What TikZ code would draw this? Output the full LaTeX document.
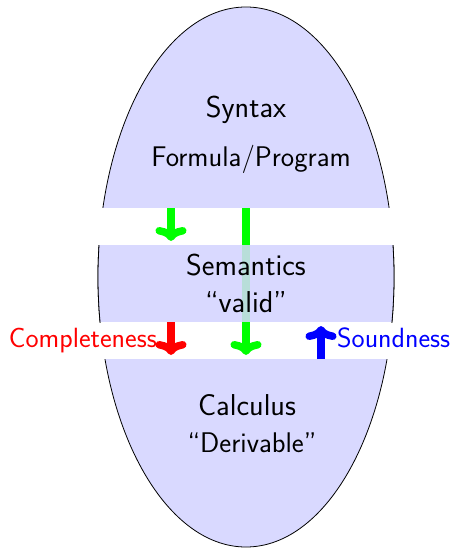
\documentclass[tikz,border=0pt]{standalone}
\usetikzlibrary{arrows.meta}
\begin{document}
\begin{tikzpicture}[x=1pt,y=-1pt,
  lbl/.style={font=\sffamily\fontsize{30.2}{37}\selectfont, anchor=base, inner sep=0pt},
  lblsmall/.style={font=\sffamily\fontsize{28.4}{37}\selectfont, anchor=base, inner sep=0pt},
  side/.style={font=\sffamily\fontsize{27.8}{30}\selectfont, inner sep=0pt},
  arr/.style={line width=7.5pt, -{To[length=14pt,width=31pt,round]}},
  bandfill/.style={fill=white, draw=none}]
\useasboundingbox (0,0) rectangle (454,548);
% ellipse
\path[fill=blue!15, draw=black, line width=0.8pt] (246,277) ellipse [x radius=148, y radius=270];
% white bands
\path[bandfill] (90,208) rectangle (402,245);
\path[bandfill] (90,322) rectangle (402,359);
% coordinates
\coordinate (gls) at (246,208);
\coordinate (gle) at (246,355);
\coordinate (g1s) at (171,208);
\coordinate (g1e) at (171,241);
\coordinate (rs) at (171,322);
\coordinate (re) at (171,355);
\coordinate (bs) at (321,359);
\coordinate (be) at (321,326);
% long green arrow (behind semantics band)
\draw[arr, green] (gls) -- (gle);
% semantics band
\begin{scope}
  \clip (246,277) ellipse [x radius=148, y radius=270];
  \fill[blue!15, fill opacity=0.85] (90,245) rectangle (402,322);
\end{scope}
\begin{scope}
  \clip (90,245) rectangle (402,322);
  \draw[line width=0.8pt] (246,277) ellipse [x radius=148, y radius=270];
\end{scope}
% short arrows
\draw[arr, green] (g1s) -- (g1e);
\draw[arr, red] (rs) -- (re);
\draw[arr, blue] (bs) -- (be);
% texts
\node[lbl] (syn) at (246,118) {Syntax};
\node[lblsmall] (form) at (251,167) {Formula/Program};
\node[lbl] (sem) at (246,275) {Semantics};
\node[lbl] (val) at (246,312) {``valid''};
\node[lbl] (cal) at (247,415) {Calculus};
\node[lblsmall] (der) at (252,452) {``Derivable''};
\node[side, red, anchor=base east] (comp) at (157,347) {Completeness};
\node[side, blue, anchor=base west] (sound) at (337,347) {Soundness};
\end{tikzpicture}
\end{document}
